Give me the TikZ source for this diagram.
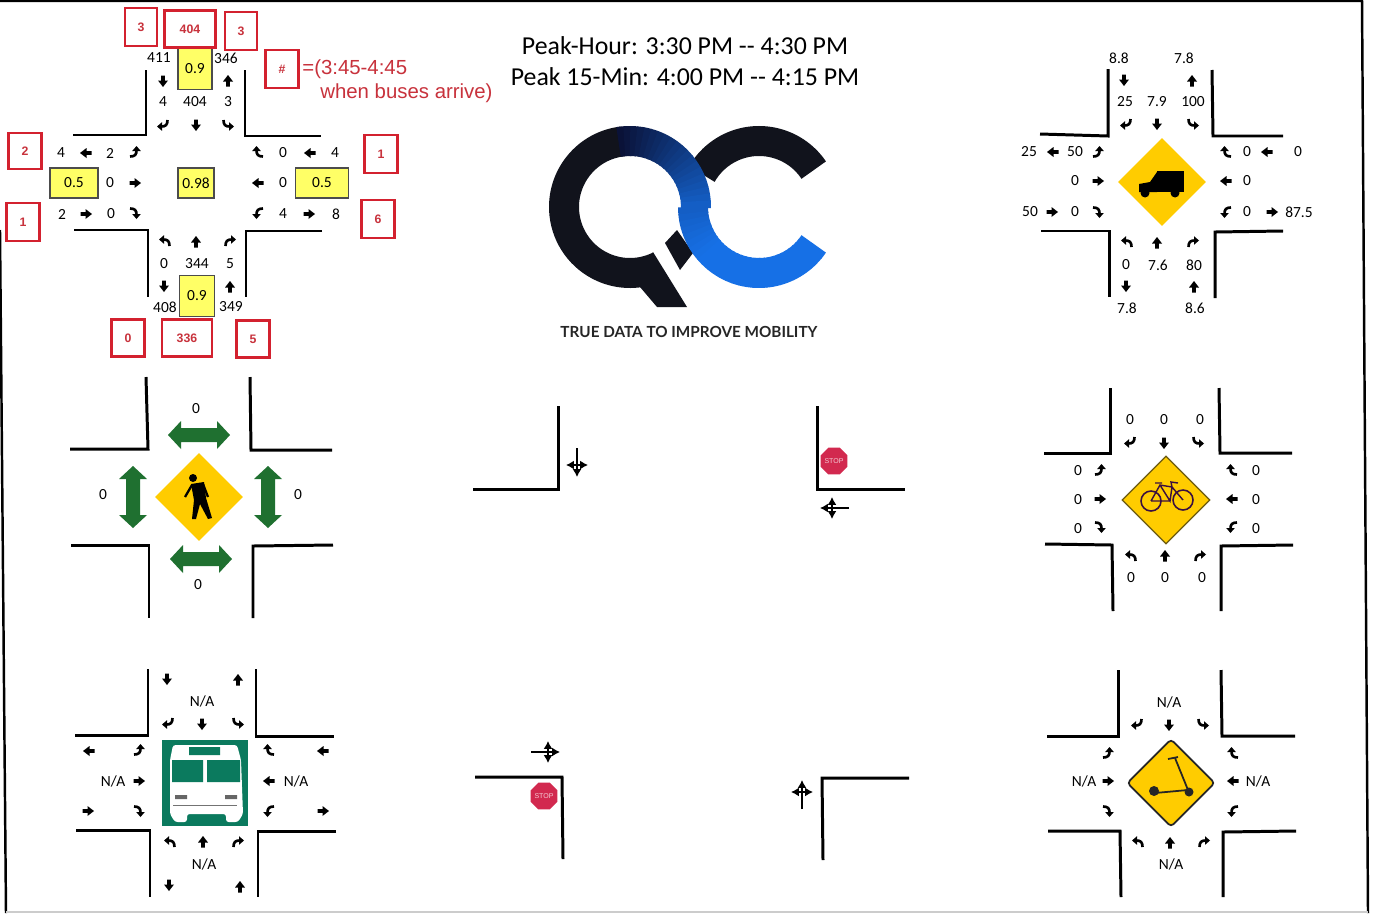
\documentclass[tikz,border=0pt]{standalone}
\usepackage{fontspec}
\setmainfont{Carlito}
\newfontfamily\arialfont{Liberation Sans}
\newfontfamily\latofont{Lato}
\usetikzlibrary{arrows.meta,shapes.geometric}
\definecolor{redbox}{HTML}{D3212F}
\definecolor{redtext}{HTML}{C8323C}
\definecolor{boxyellow}{HTML}{FFFF66}
\definecolor{signyellow}{HTML}{FFCC00}
\definecolor{signedge}{HTML}{6B5A10}
\definecolor{walkgreen}{HTML}{1F7030}
\definecolor{busteal}{HTML}{0B7A5E}
\definecolor{stopred}{HTML}{D2294F}
\definecolor{logodark}{HTML}{0A1238}
\definecolor{logoblack}{HTML}{11131C}
\definecolor{logoblue}{HTML}{1670E6}
\definecolor{bikepurple}{HTML}{3A0F40}
\tikzset{
  curbline/.style={line width=1.7pt, line join=miter},
  cnt/.style={inner sep=0pt, font=\fontsize{8.8}{10}\selectfont},
  peakbox/.style={draw=black!70, fill=boxyellow, line width=0.6pt, inner sep=0pt, font=\fontsize{8.8}{10}\selectfont},
  rawbox/.style={draw=redbox, fill=white, line width=1.2pt, inner sep=0pt, text=redtext, font=\arialfont\bfseries\fontsize{7}{8}\selectfont},
  noteline/.style={inner sep=0pt, anchor=west, text=redtext, font=\arialfont\fontsize{11.6}{13}\selectfont},
  signbox/.style={diamond, aspect=1, fill=signyellow, inner sep=0pt, minimum width=1.76cm, minimum height=1.76cm},
  stopsign/.style={regular polygon, regular polygon sides=8, fill=stopred, inner sep=0pt, minimum size=0.54cm, text=white!75!stopred, font=\arialfont\fontsize{4}{4}\selectfont},
  logostroke/.style={line width=0.6cm, line cap=butt},
}
% straight, turning and shared-lane movement arrows
\newcommand{\movS}[2]{%
  \fill[shift={#1}, rotate=#2] (-5.5,-1.8) -- (-0.5,-1.8) -- (-0.5,-5) -- (6,0) -- (-0.5,5) -- (-0.5,1.8) -- (-5.5,1.8) -- cycle;}
\newcommand{\movT}[3]{%
  \begin{scope}[shift={#1}, rotate=#2, xscale=#3]
    \draw[line width=1.5pt] (4.5,-5) .. controls (4.5,0) and (2.5,1.5) .. (-1.5,1.5);
    \fill (-1,-2.8) -- (-6,1.5) -- (-1,5.8) -- cycle;
  \end{scope}}
\newcommand{\turnset}[8]{%
  \movT{#1}{0}{1} \movT{#2}{0}{-1} \movT{#3}{90}{-1} \movT{#4}{90}{1}
  \movT{#5}{-90}{1} \movT{#6}{-90}{-1} \movT{#7}{180}{-1} \movT{#8}{180}{1}}
\newcommand{\movF}[2]{%
  \begin{scope}[shift={#1}, rotate=#2]
    \draw[line width=0.7pt, -{Latex[length=4.5pt,width=5pt]}] (-15,0) -- (14,0);
    \draw[line width=0.7pt, {Latex[length=4.5pt,width=5pt]}-{Latex[length=4.5pt,width=5pt]}] (2,-11) -- (2,11);
  \end{scope}}
\newcommand{\curb}[3]{\draw[curbline] #1 -- #2 -- #3;}
\newcommand{\walkarrow}[2]{%
  \fill[walkgreen, shift={#1}, rotate=#2] (-31,0) -- (-18,-14) -- (-18,-7) -- (18,-7) -- (18,-14) -- (31,0)
    -- (18,14) -- (18,7) -- (-18,7) -- (-18,14) -- cycle;}
\newcommand{\cnts}[2]{\foreach \x/\y/\t [count=\i] in {#2} \node[cnt] (#1\i) at (\x,\y) {\t};}

\begin{document}
\begin{tikzpicture}[x=0.02cm, y=-0.02cm]
  \useasboundingbox (0,0) rectangle (1375,913);
  \fill[white] (0,0) rectangle (1375,913);
  \draw[line width=1.4pt] (0,1) -- (1362,1) -- (1368,913);
  \draw[line width=1.4pt] (0,230) -- (6,913);
  \draw[line width=0.8pt, black!20] (6,912) -- (1368,912);

  % all traffic
  \curb{(146,70)}{(146,135)}{(73,135)}
  \curb{(245,70)}{(245,136)}{(321,136)}
  \curb{(74,230)}{(148,230)}{(148,297)}
  \curb{(322,231)}{(246,231)}{(246,297)}
  \foreach \x/\y/\w/\h/\t [count=\i] in {195/69/34/41/{0.9\hspace{7pt}}, 74/183/48/30/{0.5}, 196/183/36/30/{0.98},
      322/183/53/30/{0.5}, 197/296/35/41/{0.9}}
    \node[peakbox, minimum width=\w*0.02cm, minimum height=\h*0.02cm] (peak\i) at (\x,\y) {\t};
  \foreach \x/\y/\w/\h/\t [count=\i] in {141/27/32/38/3, 190/29/51/37/404, 241/31/32/38/3, 282/69/33/38/\#,
      25/151/33/36/2, 23/222/33/38/1, 381/154/33/38/1, 378/219/33/38/6,
      128/338/33/37/0, 187/338/50/37/336, 253/339/33/37/5}
    \node[rawbox, minimum width=\w*0.02cm, minimum height=\h*0.02cm] (raw\i) at (\x,\y) {\t};
  \node[noteline] (noteA) at (302,69) {=(3:45-4:45};
  \node[noteline] (noteB) at (320,93) {when buses arrive)};
  \cnts{all}{159/58/411, 226/58/346, 163/102/4, 195/102/404, 228/102/3, 61/153/4, 110/153/2, 283/153/0, 335/153/4,
    110/183/0, 283/183/0, 62/214/2, 111/214/0, 283/214/4, 336/214/8, 164/264/0, 197/264/344, 230/264/5, 165/307/408, 231/307/349}
  \foreach \x/\y/\a in {163/81/-90, 228/81/90, 196/125/-90, 86/153/180, 310/153/180, 135/183/0, 258/183/180,
      86/214/0, 309/214/0, 196/242/90, 164/286/-90, 230/287/90}
    {\movS{(\x,\y)}{\a}}
  \turnset{(163,125)}{(228,125)}{(135,152)}{(135,213)}{(258,152)}{(258,213)}{(165,241)}{(230,241)}

  % titles
  \node[inner sep=0pt, align=center, font=\fontsize{14.7}{17.8}\selectfont] (peak) at (685,61)
    {Peak-Hour: 3:30 PM -{}- 4:30 PM\\Peak 15-Min: 4:00 PM -{}- 4:15 PM};

  % logo
  \begin{scope}[y=0.02cm]
    \coordinate (qc) at (630,-207);
    \coordinate (cc) at (759,-207);
    \draw[logostroke, logoblack] (cc)+(34:66) arc[start angle=34, end angle=150, radius=66];
    \draw[logostroke, logoblack] (qc)+(96:66) arc[start angle=96, end angle=295, radius=66];
    \fill[logoblack] (653,-252) -- (687,-307) -- (657,-307) -- (640,-287) -- (640,-270) -- cycle;
    \fill[logoblack] (665,-243) -- (680,-270) -- (693,-253) -- (677,-230) -- cycle;
    \foreach \a in {100,95,...,5} {
      \pgfmathsetmacro{\p}{(100-\a)*0.85}
      \draw[logostroke, draw=logoblue!\p!logodark] (qc)+(\a:66) arc[start angle=\a, delta angle=-6, radius=66];
    }
    \foreach \a in {180,185,...,320} {
      \pgfmathsetmacro{\p}{min(81+(\a-180)*0.5,100)}
      \draw[logostroke, draw=logoblue!\p!logodark] (cc)+(\a:66) arc[start angle=\a, delta angle=6, radius=66];
    }
  \end{scope}
  \node[inner sep=0pt, font=\latofont\bfseries\fontsize{8.7}{10}\selectfont, text=black!85] (tagline) at (689,332) {TRUE DATA TO IMPROVE MOBILITY};

  % heavy vehicles
  \curb{(1108,69)}{(1108,136)}{(1040,134)}
  \curb{(1212,70)}{(1213,136)}{(1283,136)}
  \curb{(1041,231)}{(1109,231)}{(1109,297)}
  \curb{(1283,231)}{(1215,232)}{(1215,298)}
  \node[signbox] (truckSign) at (1162,182) {};
  \fill (1157,171) rectangle (1184,192);
  \fill (1139,184) -- (1150,182) -- (1157,172) -- (1157,192) -- (1139,192) -- cycle;
  \fill (1145,193) circle [radius=4.5] (1175,193) circle [radius=4.5];
  \cnts{hv}{1119/58/8.8, 1184/58/7.8, 1125/102/25, 1157/102/7.9, 1193/102/100, 1029/152/25, 1075/152/50, 1247/152/0, 1298/152/0,
    1075/181/0, 1247/181/0, 1030/212/50, 1075/212/0, 1247/212/0, 1299/212/87.5, 1126/265/0, 1158/265/7.6, 1194/265/80, 1127/308/7.8, 1195/308/8.6}
  \foreach \x/\y/\a in {1124/80/-90, 1192/81/90, 1157/124/-90, 1053/152/180, 1267/152/180, 1098/181/0, 1226/181/180,
      1052/212/0, 1272/212/0, 1157/243/90, 1126/286/-90, 1194/287/90}
    {\movS{(\x,\y)}{\a}}
  \turnset{(1126,124)}{(1193,124)}{(1098,152)}{(1098,212)}{(1226,152)}{(1226,212)}{(1127,242)}{(1193,242)}

  % pedestrians
  \curb{(146,377)}{(148,449)}{(70,449)}
  \curb{(250,377)}{(251,450)}{(332,450)}
  \curb{(71,545)}{(149,545)}{(149,618)}
  \curb{(333,545)}{(253,546)}{(253,618)}
  \node[signbox] (pedSign) at (199,497) {};
  \fill (193,478) circle [radius=4];
  \fill (191,484) -- (204,482) -- (206,498) -- (212,518) -- (208,519) -- (200,504) -- (196,519) -- (192,519) -- (194,500) -- cycle;
  \draw[line width=1.3pt] (192,485) -- (185,497) (203,484) -- (208,497);
  \walkarrow{(199,435)}{0}
  \walkarrow{(201,559)}{0}
  \walkarrow{(133,497)}{90}
  \walkarrow{(268,497)}{90}
  \cnts{ped}{196/409/0, 103/495/0, 298/495/0, 198/585/0}

  % bicycles
  \curb{(1110,388)}{(1110,453)}{(1044,453)}
  \curb{(1219,388)}{(1220,453)}{(1292,453)}
  \curb{(1045,544)}{(1112,545)}{(1113,611)}
  \curb{(1293,545)}{(1221,546)}{(1221,611)}
  \node[signbox, draw=signedge, line width=0.7pt] (bikeSign) at (1166,500) {};
  \draw[bikepurple, line width=0.9pt] (1151,501) circle [radius=10] (1183,500) circle [radius=10];
  \draw[bikepurple, line width=0.8pt] (1151,501) -- (1160,485) -- (1172,487) -- (1183,500)
    (1160,485) -- (1170,501) -- (1172,487) (1151,501) -- (1170,501) (1155,483) -- (1162,483) (1172,487) -- (1171,482) -- (1178,483);
  \cnts{bike}{1130/420/0, 1164/420/0, 1200/420/0, 1078/471/0, 1256/471/0, 1078/500/0, 1256/500/0, 1078/529/0, 1256/529/0,
    1131/578/0, 1165/578/0, 1202/578/0}
  \foreach \x/\y/\a in {1164/443/-90, 1100/499/0, 1232/499/180, 1165/556/90}
    {\movS{(\x,\y)}{\a}}
  \turnset{(1130,442)}{(1198,442)}{(1100,470)}{(1100,527)}{(1232,470)}{(1232,527)}{(1131,556)}{(1200,556)}

  % buses
  \curb{(148,669)}{(148,735)}{(75,735)}
  \curb{(256,669)}{(256,736)}{(334,736)}
  \curb{(76,830)}{(150,830)}{(150,897)}
  \curb{(336,831)}{(258,831)}{(258,897)}
  \fill[busteal] (162,740) rectangle (248,826);
  \fill[white, rounded corners=1.5pt] (173,745) -- (237,745) -- (241,760) -- (243,814) -- (238,822) -- (226,822) -- (226,814)
    -- (187,814) -- (187,822) -- (175,822) -- (170,814) -- (170,760) -- cycle;
  \fill[busteal] (189,747) rectangle (220,755) (172,760) rectangle (203,782) (207,760) rectangle (240,782);
  \fill[black!60] (175,795) rectangle (187,799) (225,795) rectangle (237,799);
  \draw[black!55, line width=0.5pt] (173,805) -- (237,805);
  \cnts{bus}{202/701/{N/A}, 113/781/{N/A}, 296/781/{N/A}, 204/864/{N/A}}
  \foreach \x/\y/\a in {167/679/-90, 238/680/90, 202/724/-90, 89/751/180, 323/751/180, 139/781/0, 269/781/180,
      88/811/0, 323/811/0, 203/842/90, 169/885/-90, 240/887/90}
    {\movS{(\x,\y)}{\a}}
  \turnset{(168,723)}{(238,723)}{(139,750)}{(139,811)}{(269,750)}{(269,811)}{(170,842)}{(238,842)}

  % scooters
  \curb{(1118,670)}{(1118,736)}{(1047,736)}
  \curb{(1221,670)}{(1222,736)}{(1295,736)}
  \curb{(1048,831)}{(1120,831)}{(1121,897)}
  \curb{(1296,831)}{(1223,832)}{(1223,897)}
  \node[signbox, draw=black!85, line width=1pt, rounded corners=2pt] (scootSign) at (1171,783) {};
  \draw[black!85, line width=1pt] (1168,759) -- (1178,757) (1175,758) -- (1188,790) (1155,793) -- (1188,790);
  \fill[black!85] (1154,791) circle [radius=5] (1189,792) circle [radius=4.5];
  \cnts{scoot}{1169/702/{N/A}, 1084/781/{N/A}, 1258/781/{N/A}, 1171/864/{N/A}}
  \foreach \x/\y/\a in {1169/725/-90, 1108/781/0, 1233/781/180, 1170/843/90}
    {\movS{(\x,\y)}{\a}}
  \turnset{(1137,724)}{(1203,724)}{(1108,753)}{(1108,811)}{(1233,753)}{(1233,811)}{(1138,842)}{(1204,842)}

  % stop-controlled corners
  \curb{(558,406)}{(558,489)}{(473,489)}
  \curb{(817,406)}{(817,489)}{(905,489)}
  \curb{(475,777)}{(562,777)}{(563,859)}
  \curb{(909,778)}{(822,778)}{(823,860)}
  \movF{(577,463)}{-90}
  \movF{(834,508)}{180}
  \movF{(546,752)}{0}
  \movF{(802,794)}{90}
  \node[stopsign] (stopB) at (834,461) {STOP};
  \node[stopsign] (stopC) at (544,796) {STOP};
\end{tikzpicture}
\end{document}
